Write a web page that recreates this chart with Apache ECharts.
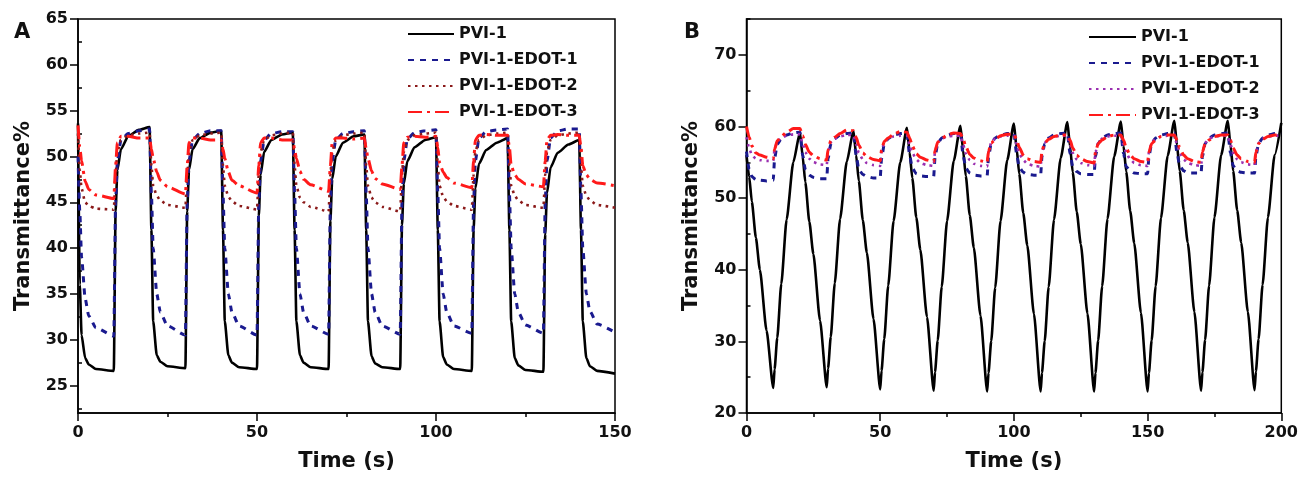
<!DOCTYPE html>
<html>
<head>
<meta charset="utf-8">
<script src="https://cdn.jsdelivr.net/npm/echarts@6/dist/echarts.min.js"></script>
<style>
html,body{margin:0;padding:0;background:#fff;}
#chart{width:1301px;height:477px;}
</style>
</head>
<body>
<div id="chart"></div>
<script>
// ---------- Panel A data (time in s, transmittance %) ----------
const timeA = [
  0,0.5,1,2,3,5,10,10.5,11,12,14,17,
  20,20.5,21,22,23,25,30,30.5,31,32,34,37,
  40,40.5,41,42,43,45,50,50.5,51,52,54,57,
  60,60.5,61,62,63,65,70,70.5,71,72,74,77,
  80,80.5,81,82,83,85,90,90.5,91,92,94,97,
  100,100.5,101,102,103,105,110,110.5,111,112,114,117,
  120,120.5,121,122,123,125,130,130.5,131,132,134,137,
  140,140.5,141,142,143,145,150
];
const pvi1A = [
  53.6,36,30.5,28,27.3,26.8,26.6,44,48.5,50.8,52.2,52.9,
  53.2,42,32,28.3,27.6,27.1,26.9,44,48.5,50.8,52.0,52.6,
  52.8,42,32,28.3,27.5,27.0,26.8,43.5,48,50.5,51.8,52.4,
  52.6,42,32,28.3,27.5,27.0,26.8,43,47.5,50,51.5,52.2,
  52.4,42,32,28.2,27.4,27.0,26.8,42.5,47,49.5,51,51.8,
  52.1,42,32,28.1,27.3,26.8,26.6,42,46.5,49.2,50.7,51.5,
  52.0,42,32,28,27.2,26.7,26.5,41.5,46,48.8,50.4,51.3,
  51.8,42,32,28,27.1,26.6,26.3
];
const edot1A = [
  50,44,39,34.5,32.6,31.3,30.4,45,49.5,51.8,52.5,52.8,
  53.0,46,40,35,33,31.5,30.5,45,49.5,51.8,52.5,52.8,
  52.8,46,40,35,33,31.5,30.5,45,49.5,51.8,52.5,52.7,
  52.7,46,40,35,33,31.5,30.6,45,49.5,51.8,52.5,52.7,
  52.8,46,40,35,33,31.5,30.6,45,49.5,51.9,52.6,52.8,
  52.9,46,40,35,33,31.5,30.7,45,49.5,52,52.7,52.9,
  53.0,46,40,35,33,31.6,30.7,45,49.5,52,52.8,53,
  53.0,46,40,35,33.1,31.7,30.8
];
const edot2A = [
  52.5,48.5,46.5,45,44.6,44.3,44.2,48,50.5,51.8,52.3,52.5,
  52.6,49,46.8,45.7,45.2,44.7,44.4,48,50.5,51.8,52.3,52.5,
  52.6,49,46.8,45.6,45.1,44.6,44.2,48,50.5,51.8,52.3,52.5,
  52.6,49,46.8,45.5,45,44.5,44.0,48,50.5,51.8,52.3,52.5,
  52.6,49,46.8,45.5,45,44.5,44.0,48,50.5,51.8,52.3,52.5,
  52.6,49,46.8,45.6,45.1,44.6,44.2,48,50.5,51.8,52.3,52.5,
  52.6,49,46.8,45.7,45.2,44.7,44.4,48,50.5,51.8,52.3,52.5,
  52.6,49,46.8,45.7,45.2,44.7,44.4
];
const edot3A = [
  53.4,51,49.5,47.3,46.4,45.8,45.4,49,51.5,52.2,52.2,52.0,
  52.0,50.8,49.8,48.3,47.4,46.7,45.9,49,51.5,52.0,52.0,51.8,
  51.8,50.8,49.8,48.3,47.4,46.8,46.0,49,51.5,52.0,52.0,51.8,
  51.8,50.8,49.8,48.4,47.5,46.9,46.2,49,51.5,52.0,52.0,51.9,
  52.0,50.8,49.8,48.4,47.6,47.0,46.4,49,51.5,52.1,52.2,52.1,
  52.2,51,49.3,48.3,47.7,47.1,46.6,49.5,51.8,52.3,52.4,52.3,
  52.3,51,49,48,47.5,47.0,46.7,49.5,51.8,52.3,52.4,52.3,
  52.3,51,49,48,47.5,47.1,46.8
];

// ---------- Panel B data ----------
const timeB = [
  0,1,2,3.5,5,7.5,10,10.5,11.5,13,15,17.5,
  20,21,22,23.5,25,27.5,30,30.5,31.5,33,35,37.5,
  40,41,42,43.5,45,47.5,50,50.5,51.5,53,55,57.5,
  60,61,62,63.5,65,67.5,70,70.5,71.5,73,75,77.5,
  80,81,82,83.5,85,87.5,90,90.5,91.5,93,95,97.5,
  100,101,102,103.5,105,107.5,110,110.5,111.5,113,115,117.5,
  120,121,122,123.5,125,127.5,130,130.5,131.5,133,135,137.5,
  140,141,142,143.5,145,147.5,150,150.5,151.5,153,155,157.5,
  160,161,162,163.5,165,167.5,170,170.5,171.5,173,175,177.5,
  180,181,182,183.5,185,187.5,190,190.5,191.5,193,195,197.5,
  200
];
const pvi1B = [
  56,53,49.5,44.5,40,31.5,23.5,26.1,30.5,38,47,55,
  59.2,55.8,52.2,46.7,42.2,32.9,23.6,26.2,30.6,38.1,47.1,55.1,
  59.4,56,52.4,46.9,42.4,33.1,23.3,25.9,30.3,37.8,46.8,55,
  59.8,56.4,52.8,47.3,42.8,33.4,23.1,25.7,30.1,37.6,46.8,55.2,
  60.1,56.7,53.1,47.6,43.1,33.6,23.0,25.6,30,37.5,46.8,55.3,
  60.4,57,53.4,47.9,43.4,33.8,23.0,25.6,30,37.6,47,55.6,
  60.6,57.2,53.6,48.1,43.6,33.9,23.0,25.6,30.1,37.7,47.1,55.8,
  60.7,57.3,53.7,48.2,43.7,34,23.0,25.6,30.1,37.7,47.2,55.9,
  60.8,57.4,53.8,48.3,43.8,34.1,23.1,25.7,30.2,37.8,47.3,56,
  60.8,57.4,53.8,48.3,43.8,34.1,23.2,25.8,30.3,37.9,47.3,56,
  60.5
];
const edot1B = [
  56.5,54,53,52.6,52.5,52.4,52.5,55.5,57.5,58.3,58.8,59.1,
  59.2,56,54,53.2,52.9,52.7,52.7,55.5,57.5,58.3,58.8,59,
  59.1,56,54,53.3,53,52.8,52.8,55.5,57.5,58.3,58.8,59,
  59.1,56,54.2,53.4,53.1,53,53,55.7,57.6,58.4,58.8,59,
  59.1,56,54.2,53.5,53.2,53.1,53.1,55.7,57.6,58.4,58.8,59,
  59.1,56.2,54.3,53.6,53.3,53.2,53.2,55.8,57.6,58.4,58.8,59,
  59.1,56.2,54.4,53.7,53.4,53.3,53.3,55.8,57.6,58.4,58.8,59,
  59.1,56.2,54.4,53.8,53.5,53.4,53.4,55.8,57.6,58.4,58.8,59,
  59.1,56.3,54.5,53.8,53.5,53.5,53.5,55.8,57.6,58.4,58.8,59,
  59.1,56.3,54.5,53.8,53.6,53.5,53.5,55.8,57.6,58.4,58.8,59,
  59
];
const edot2B = [
  58.5,57,56,55.5,55.3,55.2,55.2,56.8,57.9,58.4,58.7,58.9,
  58.9,57.6,56.4,55.5,55,54.7,54.6,56.5,57.8,58.3,58.6,58.8,
  58.8,57.5,56.3,55.4,54.9,54.6,54.5,56.5,57.8,58.3,58.6,58.7,
  58.7,57.5,56.3,55.4,54.9,54.6,54.5,56.5,57.8,58.3,58.6,58.7,
  58.7,57.5,56.2,55.3,54.8,54.5,54.4,56.4,57.7,58.3,58.6,58.7,
  58.7,57.5,56.2,55.3,54.8,54.5,54.4,56.4,57.7,58.3,58.6,58.7,
  58.7,57.5,56.3,55.4,54.9,54.6,54.5,56.4,57.7,58.3,58.6,58.7,
  58.7,57.5,56.3,55.4,54.9,54.6,54.5,56.4,57.7,58.3,58.6,58.7,
  58.7,57.5,56.3,55.4,54.9,54.6,54.5,56.4,57.7,58.3,58.6,58.7,
  58.7,57.5,56.3,55.4,55,54.7,54.6,56.4,57.7,58.3,58.6,58.7,
  58.8
];
const edot3B = [
  60,58.5,57.3,56.3,56,55.7,55.5,56.8,58,58.6,59.2,59.7,
  59.7,58.7,57.5,56.4,55.9,55.5,55.3,56.8,58,58.5,59,59.5,
  59.4,58.5,57.4,56.3,55.8,55.4,55.2,56.7,57.9,58.4,58.9,59.3,
  59.2,58.4,57.3,56.2,55.7,55.3,55.1,56.6,57.8,58.3,58.8,59.1,
  59.0,58.3,57.2,56.1,55.6,55.2,55.0,56.5,57.7,58.2,58.7,58.9,
  58.9,58.2,57.1,56,55.5,55.1,55.0,56.5,57.7,58.2,58.6,58.8,
  58.8,58.1,57,56,55.5,55.1,54.9,56.4,57.6,58.1,58.6,58.8,
  58.8,58.1,57,56,55.5,55.1,55.0,56.4,57.6,58.1,58.6,58.8,
  58.8,58.1,57,56,55.5,55.1,55.0,56.4,57.6,58.1,58.6,58.8,
  58.8,58.1,57,56,55.5,55.1,55.0,56.4,57.6,58.2,58.6,58.8,
  58.9
];

// ---------- labels / ticks ----------
const seriesNames = ['PVI-1','PVI-1-EDOT-1','PVI-1-EDOT-2','PVI-1-EDOT-3'];
const yTicksA = [25,30,35,40,45,50,55,60,65];
const yMinorA = [22.5,27.5,32.5,37.5,42.5,47.5,52.5,57.5,62.5];
const yTicksB = [20,30,40,50,60,70];
const yMinorB = [25,35,45,55,65,75];

const FONT = '"DejaVu Sans", "Liberation Sans", sans-serif';
const colorsA = ['#000000','#1a1a8f','#8b1a1a','#ff1a1a'];
const colorsB = ['#000000','#1a1a8f','#9a2fb0','#ff1a1a'];
const dashes = ['solid',[6,6],[2.5,4.5],[14,5,3,5]];
const widths = [2.6,3,2.6,3];

function pairs(t, v){ return t.map((x,i)=>[x, v[i]]); }

const labelStyle = {color:'#111', fontFamily:FONT, fontWeight:'bold', fontSize:16};
const nameStyle = {color:'#111', fontFamily:FONT, fontWeight:'bold', fontSize:21};
const lineBlack = {color:'#000', width:1.5};

function xAxisFor(gi, max){
  return {
    gridIndex:gi, type:'value', min:0, max:max, interval:50,
    name:'Time (s)', nameLocation:'middle', nameGap:38, nameTextStyle:nameStyle,
    axisLine:{show:true, onZero:false, lineStyle:lineBlack},
    axisTick:{show:true, length:8, lineStyle:lineBlack},
    minorTick:{show:true, splitNumber:2, length:4, lineStyle:lineBlack},
    axisLabel:Object.assign({margin:12}, labelStyle),
    splitLine:{show:false}, minorSplitLine:{show:false}
  };
}
function yAxisFor(gi, min, max, ticks){
  return {
    gridIndex:gi, type:'value', min:min, max:max,
    name:'Transmittance%', nameLocation:'middle', nameGap:44, nameTextStyle:nameStyle,
    axisLine:{show:true, onZero:false, lineStyle:lineBlack},
    axisTick:{show:true, length:8, lineStyle:lineBlack, customValues:ticks},
    axisLabel:Object.assign({margin:10, customValues:ticks}, labelStyle),
    splitLine:{show:false}
  };
}
function yMinorFor(gi, min, max, minors){
  return {
    gridIndex:gi, type:'value', min:min, max:max,
    axisLine:{show:false},
    axisTick:{show:true, length:4, lineStyle:lineBlack, customValues:minors},
    axisLabel:{show:false},
    splitLine:{show:false}
  };
}

const seriesArr = [];
const valsA = [pvi1A, edot1A, edot2A, edot3A];
const valsB = [pvi1B, edot1B, edot2B, edot3B];
valsA.forEach((v,i)=>{
  seriesArr.push({
    name:'A:'+seriesNames[i], type:'line', xAxisIndex:0, yAxisIndex:0,
    data:pairs(timeA, v), symbol:'none', showSymbol:false, smooth:0.2, smoothMonotone:'x',
    lineStyle:{color:colorsA[i], width:widths[i], type:dashes[i]}, itemStyle:{color:colorsA[i]},
    animation:false, z:2+i
  });
});
valsB.forEach((v,i)=>{
  seriesArr.push({
    name:'B:'+seriesNames[i], type:'line', xAxisIndex:1, yAxisIndex:2,
    data:pairs(timeB, v), symbol:'none', showSymbol:false, smooth:0.2, smoothMonotone:'x',
    lineStyle:{color:colorsB[i], width:widths[i], type:dashes[i]}, itemStyle:{color:colorsB[i]},
    animation:false, z:2+i
  });
});

const legendText = {color:'#111', fontFamily:FONT, fontWeight:'bold', fontSize:16};
const hiddenSymbol = {opacity:0, color:'transparent', borderColor:'transparent', borderWidth:0};
const chart = echarts.init(document.getElementById('chart'), null, {renderer:'canvas'});
chart.setOption({
  backgroundColor:'#ffffff',
  animation:false,
  grid:[
    {left:78, top:19, width:537, height:396, show:true, borderColor:'#000', borderWidth:1.5, containLabel:false},
    {left:746.5, top:19, width:537.5, height:396, show:true, borderColor:'#000', borderWidth:1.5, containLabel:false}
  ],
  xAxis:[ xAxisFor(0,150), xAxisFor(1,200) ],
  yAxis:[
    yAxisFor(0,22,65,yTicksA), yMinorFor(0,22,65,yMinorA),
    yAxisFor(1,20,75,yTicksB), yMinorFor(1,20,75,yMinorB)
  ],
  legend:[
    {orient:'vertical', left:402, top:21, itemWidth:46, itemHeight:14, itemGap:10,
     data:seriesNames.map(n=>'A:'+n), formatter:n=>n.slice(2), textStyle:legendText,
     itemStyle:hiddenSymbol, selectedMode:false},
    {orient:'vertical', left:1083, top:24, itemWidth:47, itemHeight:14, itemGap:10,
     data:seriesNames.map(n=>'B:'+n), formatter:n=>n.slice(2), textStyle:legendText,
     itemStyle:hiddenSymbol, selectedMode:false}
  ],
  graphic:[
    {type:'text', left:14, top:22, style:{text:'A', font:'bold 21px "DejaVu Sans"', fill:'#111'}},
    {type:'text', left:684, top:22, style:{text:'B', font:'bold 21px "DejaVu Sans"', fill:'#111'}}
  ],
  series:seriesArr
});
</script>
</body>
</html>
